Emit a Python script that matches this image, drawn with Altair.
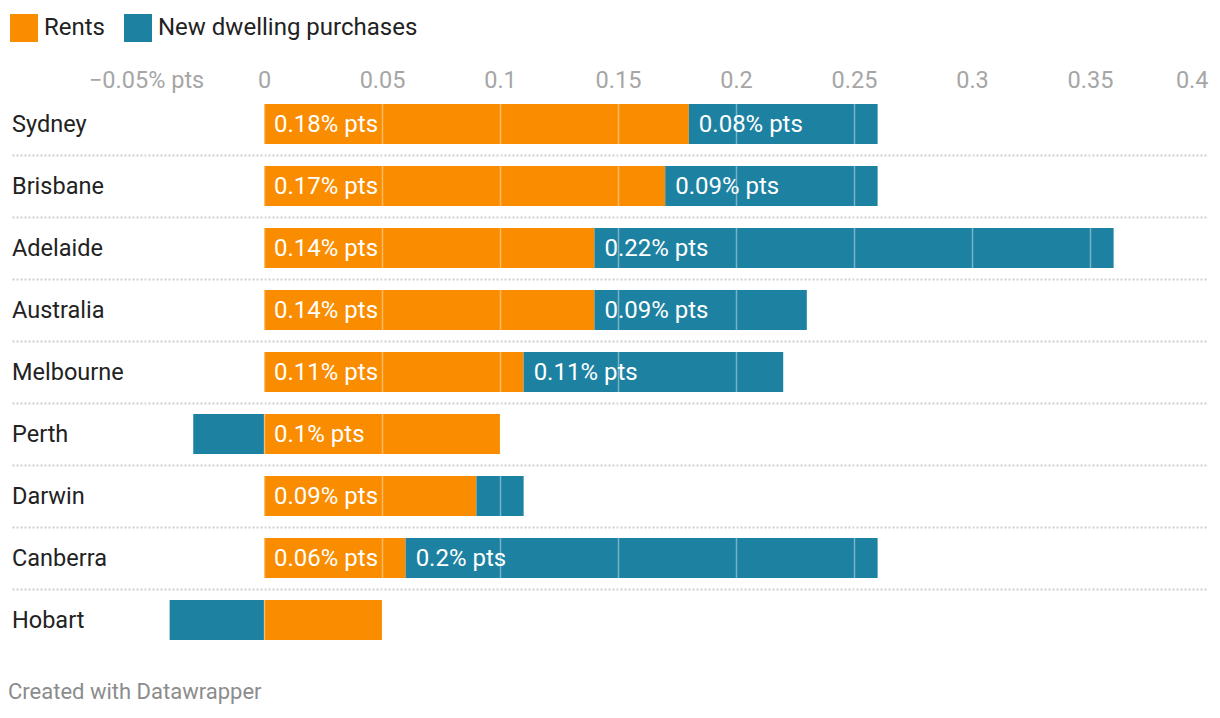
import altair as alt
import pandas as pd

cities = ["Sydney", "Brisbane", "Adelaide", "Australia", "Melbourne",
          "Perth", "Darwin", "Canberra", "Hobart"]
rents = [0.18, 0.17, 0.14, 0.14, 0.11, 0.10, 0.09, 0.06, 0.05]
new_dwelling = [0.08, 0.09, 0.22, 0.09, 0.11, -0.03, 0.02, 0.20, -0.04]
series = ["Rents", "New dwelling purchases"]
colors = ["#fa8c00", "#1d81a2"]
tick_values = [-0.05, 0, 0.05, 0.1, 0.15, 0.2, 0.25, 0.3, 0.35, 0.4]

rows = []
for i, c in enumerate(cities):
    rows.append({"city": c, "series": series[0], "order": 0, "value": rents[i]})
    rows.append({"city": c, "series": series[1], "order": 1, "value": new_dwelling[i]})
df = pd.DataFrame(rows)
names = pd.DataFrame({"city": cities})

FONT = "Roboto"

xscale = alt.Scale(domain=[-0.1068, 0.4], nice=False, zero=False)
yscale = alt.Scale(domain=cities, paddingInner=0, paddingOuter=0)

base = alt.Chart(df).transform_stack(
    stack="value", groupby=["city"], as_=["x0", "x1"],
    sort=[alt.SortField("order", order="ascending")],
)

bars = base.mark_bar(height=40).encode(
    x=alt.X("x0:Q", scale=xscale, title=None,
            axis=alt.Axis(orient="top", values=tick_values, grid=True,
                          gridColor="white", gridOpacity=0.4, gridWidth=1.5,
                          domain=False, ticks=False, labelPadding=1,
                          labelFlush=True, labelFont=FONT, labelFontSize=23.5,
                          labelColor="#a6a6a6", zindex=1,
                          labelExpr="datum.value < 0 ? '\u22120.05% pts' : format(datum.value, '.2~f')")),
    x2="x1:Q",
    y=alt.Y("city:N", scale=yscale, title=None,
            axis=alt.Axis(labels=False, ticks=False, domain=False, grid=True,
                          bandPosition=1, gridDash=[2, 2], gridColor="#cfcfcf",
                          gridWidth=2,
                          gridOpacity={"condition": {"test": "datum.value === 'Hobart'", "value": 0}, "value": 1})),
    color=alt.Color("series:N", scale=alt.Scale(domain=series, range=colors),
                    legend=alt.Legend(title=None, orient="none", legendX=-2, legendY=-79,
                                      direction="horizontal", symbolType="square",
                                      symbolSize=784, symbolStrokeWidth=0, symbolOpacity=1,
                                      labelFont=FONT, labelFontSize=24, labelColor="#222222",
                                      labelOffset=6, columnPadding=18, padding=0,
                                      labelLimit=0)),
)

labels = base.transform_filter("abs(datum.value) > 0.055").transform_calculate(
    lab="format(datum.value, '.2~f') + '% pts'"
).mark_text(align="left", baseline="middle", dx=10, dy=1, font=FONT, fontSize=24,
            color="white").encode(
    x=alt.X("x0:Q", scale=xscale),
    y=alt.Y("city:N", scale=yscale),
    text="lab:N",
)

row_names = alt.Chart(names).mark_text(
    align="left", baseline="middle", dy=1, font=FONT, fontSize=23.5, color="#222222"
).encode(
    x=alt.value(0),
    y=alt.Y("city:N", scale=yscale),
    text="city:N",
)

chart = alt.layer(bars, labels, row_names).properties(
    width=1196, height=558,
    autosize=alt.AutoSizeParams(type="none"),
    padding={"left": 4, "top": 85, "right": 4, "bottom": 55},
    title=alt.TitleParams("Created with Datawrapper", orient="bottom", anchor="start",
                          font=FONT, fontSize=22, fontWeight="normal", color="#8c8c8c",
                          offset=31, dx=-2),
).configure_view(stroke=None)

chart.save("out.html", embed_options={"renderer": "svg", "actions": False})
